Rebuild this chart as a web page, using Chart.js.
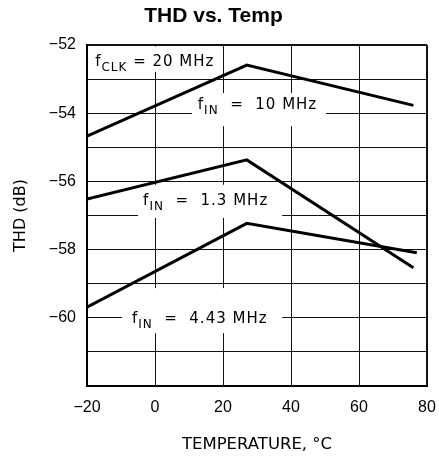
<!DOCTYPE html>
<html>
<head>
<meta charset="utf-8">
<script src="https://cdn.jsdelivr.net/npm/chart.js@4.4.1/dist/chart.umd.min.js"></script>
<style>
html, body { margin: 0; padding: 0; background: #fff; }
#wrap { width: 439px; height: 457px; }
</style>
</head>
<body>
<div id="wrap"><canvas id="thdChart"></canvas></div>
<script>
// curve data (temperature in °C, THD in dB)
const temps10 = [-20, 27, 76];
const thd10 = [-54.67, -52.59, -53.77];
const temps13 = [-20, 27, 76];
const thd13 = [-56.52, -55.37, -58.53];
const temps443 = [-20, 27, 77];
const thd443 = [-59.69, -57.23, -58.09];

const xTicks = [-20, 0, 20, 40, 60, 80];
const yLabeled = [-52, -54, -56, -58, -60];

// in-plot notes: "f" + subscript + rest
const noteSub = ["CLK", "IN", "IN", "IN"];
const noteRest = [" = 20 MHz", "  =  10 MHz", "  =  1.3 MHz", "  =  4.43 MHz"];
const noteX = [-17.6, 12.6, -3.5, -6.8];
const noteY = [-52.5, -53.76, -56.57, -60.03];
const noteBoxX = [[-20, 19.4], [10.9, 50.3], [-5, 37.4], [-9.7, 37.4]];
const noteBoxY = [[-52, -52.79], [-53.41, -54.38], [-56.1, -57.07], [-59.13, -60.45]];

const minus = v => v < 0 ? "\u2212" + Math.abs(v) : String(v);
const toPts = (xs, ys) => xs.map((t, i) => ({ x: t, y: ys[i] }));

const notes = {
    id: "notes",
    beforeDatasetsDraw(chart) {
        const { ctx, chartArea, scales: { x, y } } = chart;
        ctx.save();
        noteRest.forEach((rest, i) => {
            // white box hides the grid behind the label
            let bx0 = Math.max(x.getPixelForValue(noteBoxX[i][0]), chartArea.left + 1.5);
            let bx1 = x.getPixelForValue(noteBoxX[i][1]);
            let by0 = Math.max(y.getPixelForValue(noteBoxY[i][0]), chartArea.top + 1.5);
            let by1 = y.getPixelForValue(noteBoxY[i][1]);
            ctx.fillStyle = "#fff";
            ctx.fillRect(bx0, by0, bx1 - bx0, by1 - by0);

            let px = x.getPixelForValue(noteX[i]);
            const py = y.getPixelForValue(noteY[i]);
            ctx.fillStyle = "#000";
            ctx.textBaseline = "middle";
            ctx.textAlign = "left";
            ctx.letterSpacing = "1px";
            ctx.font = '15px "DejaVu Sans"';
            ctx.fillText("f", px, py);
            px += ctx.measureText("f").width;
            ctx.font = '12px "DejaVu Sans"';
            ctx.fillText(noteSub[i], px, py + 6);
            px += ctx.measureText(noteSub[i]).width;
            ctx.font = '15px "DejaVu Sans"';
            ctx.fillText(rest, px, py);
        });
        ctx.restore();
    }
};

const edgeWidth = (edge) => (c) => c.tick && c.tick.value === edge ? 2 : 1;

new Chart(document.getElementById("thdChart"), {
    type: "line",
    data: {
        datasets: [
            { label: "10 MHz", data: toPts(temps10, thd10) },
            { label: "1.3 MHz", data: toPts(temps13, thd13) },
            { label: "4.43 MHz", data: toPts(temps443, thd443) }
        ]
    },
    options: {
        responsive: true,
        maintainAspectRatio: false,
        animation: false,
        layout: { padding: { left: 0, right: 12, top: 0, bottom: 0 } },
        elements: {
            line: { borderColor: "#000", borderWidth: 3, tension: 0 },
            point: { radius: 0 }
        },
        plugins: {
            legend: { display: false },
            tooltip: { enabled: false },
            title: {
                display: true,
                text: "THD vs. Temp",
                color: "#000",
                font: { family: "Liberation Sans", size: 21, weight: "bold" },
                padding: { top: 4, bottom: 15.8 }
            }
        },
        scales: {
            x: {
                type: "linear",
                min: -20,
                max: 80,
                afterBuildTicks: s => { s.ticks = xTicks.map(v => ({ value: v })); },
                afterFit: s => { s.height = 71; s.paddingLeft = 0; s.paddingRight = 0; },
                grid: { color: "#111", lineWidth: edgeWidth(80), drawTicks: false },
                border: { color: "#000", width: 2 },
                ticks: {
                    color: "#000",
                    padding: 12,
                    maxRotation: 0,
                    font: { family: "Liberation Sans", size: 16 },
                    callback: v => minus(v)
                },
                title: {
                    display: true,
                    text: "TEMPERATURE, \u00B0C",
                    color: "#000",
                    font: { family: "DejaVu Sans", size: 16.5 },
                    padding: { top: 0, bottom: 2 }
                }
            },
            y: {
                min: -62,
                max: -52,
                ticks: {
                    stepSize: 1,
                    color: "#000",
                    padding: 11,
                    font: { family: "Liberation Sans", size: 16 },
                    callback: v => yLabeled.includes(v) ? minus(v) : ""
                },
                afterFit: s => { s.width = 87; s.paddingTop = 0; s.paddingBottom = 0; },
                grid: { color: "#111", lineWidth: edgeWidth(-52), drawTicks: false },
                border: { color: "#000", width: 2 },
                title: {
                    display: true,
                    text: "THD (dB)",
                    color: "#000",
                    font: { family: "DejaVu Sans", size: 16 },
                    padding: { top: 11, bottom: 0 }
                }
            }
        }
    },
    plugins: [notes]
});
</script>
</body>
</html>
